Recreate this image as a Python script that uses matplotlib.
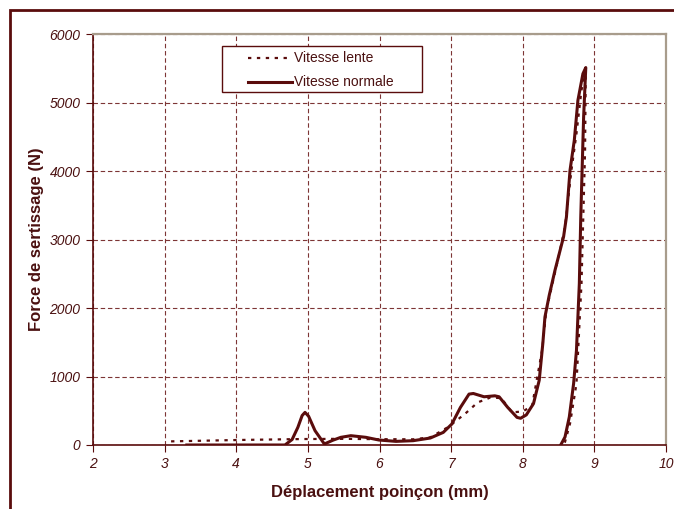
import matplotlib.pyplot as plt
from matplotlib.patches import Rectangle

# Vitesse lente (dotted curve)
lente_x = [3.09, 4.02, 4.92, 5.5, 5.99, 6.47, 6.71, 6.95, 7.19, 7.37, 7.55, 7.70, 7.85, 8.0, 8.13,
           8.27, 8.33, 8.50, 8.59, 8.68, 8.75, 8.82, 8.88,
           8.87, 8.82, 8.75, 8.66, 8.59, 8.57]
lente_y = [53, 73, 87, 90, 85, 83, 112, 257, 451, 621, 694, 684, 476, 490, 570,
           1383, 1967, 2746, 3184, 4012, 4547, 5180, 5472,
           4300, 2356, 896, 312, 44, 0]

# Vitesse normale (solid curve)
normale_x = [3.31, 4.68, 4.78, 4.86, 4.92, 4.96, 5.01, 5.10, 5.23, 5.35, 5.46, 5.60, 5.81, 5.99,
             6.23, 6.47, 6.71, 6.89, 7.01, 7.13, 7.25, 7.31, 7.46, 7.61, 7.67, 7.79, 7.92,
             7.97, 8.05, 8.15, 8.23, 8.28, 8.31, 8.37, 8.45, 8.57, 8.61, 8.66, 8.72, 8.77,
             8.84, 8.88,
             8.85, 8.81, 8.79, 8.75, 8.71, 8.65, 8.59, 8.53]
normale_y = [0, 0, 80, 257, 430, 476, 420, 209, 15, 70, 112, 136, 112, 73,
             53, 63, 102, 184, 306, 549, 743, 752, 704, 718, 704, 549, 403,
             390, 440, 604, 945, 1480, 1870, 2186, 2550, 3040, 3330, 4010, 4450, 5030,
             5420, 5510,
             4790, 3330, 2356, 1383, 896, 409, 117, 0]

series_labels = ['Vitesse lente', 'Vitesse normale']
x_ticks = [2, 3, 4, 5, 6, 7, 8, 9, 10]
y_ticks = [0, 1000, 2000, 3000, 4000, 5000, 6000]

maroon = '#5a0c0c'
grid_col = '#7d3535'
text_col = '#4a1010'
dotted = (0, (1.5, 2.5))

plt.rcParams['font.family'] = ['Liberation Sans', 'DejaVu Sans']

W, H = 674, 509
fig = plt.figure(figsize=(W / 100, H / 100), dpi=100)
ax_l, ax_r, ax_t, ax_b = 93, 666, 34, 445
ax = fig.add_axes([ax_l / W, 1 - ax_b / H, (ax_r - ax_l) / W, (ax_b - ax_t) / H])


def ax_pos(px, py):
    # pixel position in the picture -> axes fraction
    return (px - ax_l) / (ax_r - ax_l), (ax_b - py) / (ax_b - ax_t)


# outer frame of the chart (cut off on right and bottom)
fig.patches.append(Rectangle((10 / W, -0.05), 1.0, 1 - 10 / H + 0.05,
                             transform=fig.transFigure, fill=False,
                             edgecolor=maroon, linewidth=2))

ax.plot(lente_x, lente_y, color=maroon, linestyle=dotted, linewidth=1.6)
ax.plot(normale_x, normale_y, color=maroon, linestyle='-', linewidth=2.2)

ax.set_xlim(2, 10)
ax.set_ylim(0, 6000)
ax.set_xticks(x_ticks)
ax.set_yticks(y_ticks)
ax.grid(True, color=grid_col, linestyle=(0, (4, 2.5)), linewidth=0.8)
ax.set_axisbelow(True)

for side in ['left', 'bottom']:
    ax.spines[side].set_color(maroon)
    ax.spines[side].set_linewidth(1.2)
for side in ['top', 'right']:
    ax.spines[side].set_color('#a89c8c')
    ax.spines[side].set_linestyle((0, (3, 1)))
    ax.spines[side].set_linewidth(1.6)

ax.tick_params(direction='out', length=5, color=maroon, labelsize=10, pad=4,
               labelcolor=text_col)
for lab in ax.get_xticklabels() + ax.get_yticklabels():
    lab.set_fontstyle('italic')

ax.set_xlabel('Déplacement poinçon (mm)', fontsize=12, fontweight='bold', color=text_col, labelpad=10)
ax.set_ylabel('Force de sertissage (N)', fontsize=12, fontweight='bold', color=text_col, labelpad=4)

# legend box drawn by hand to keep its wide padding
x0, y0 = ax_pos(222, 92)
x1, y1 = ax_pos(422, 46)
ax.add_patch(Rectangle((x0, y0), x1 - x0, y1 - y0, transform=ax.transAxes,
                       facecolor='white', edgecolor=maroon, linewidth=1.0,
                       zorder=5, clip_on=False))
styles = [(dotted, 1.6), ('-', 2.2)]
for i, (label, (ls, lw)) in enumerate(zip(series_labels, styles)):
    py = 58 + 24 * i
    hx0, hy = ax_pos(248, py)
    hx1, _ = ax_pos(292, py)
    ax.plot([hx0, hx1], [hy, hy], transform=ax.transAxes, color=maroon,
            linestyle=ls, linewidth=lw, zorder=6, clip_on=False)
    tx, _ = ax_pos(294, py)
    ax.text(tx, hy, label, transform=ax.transAxes, fontsize=10, color=text_col,
            ha='left', va='center', zorder=6)

fig.savefig('out.png', dpi=100)
